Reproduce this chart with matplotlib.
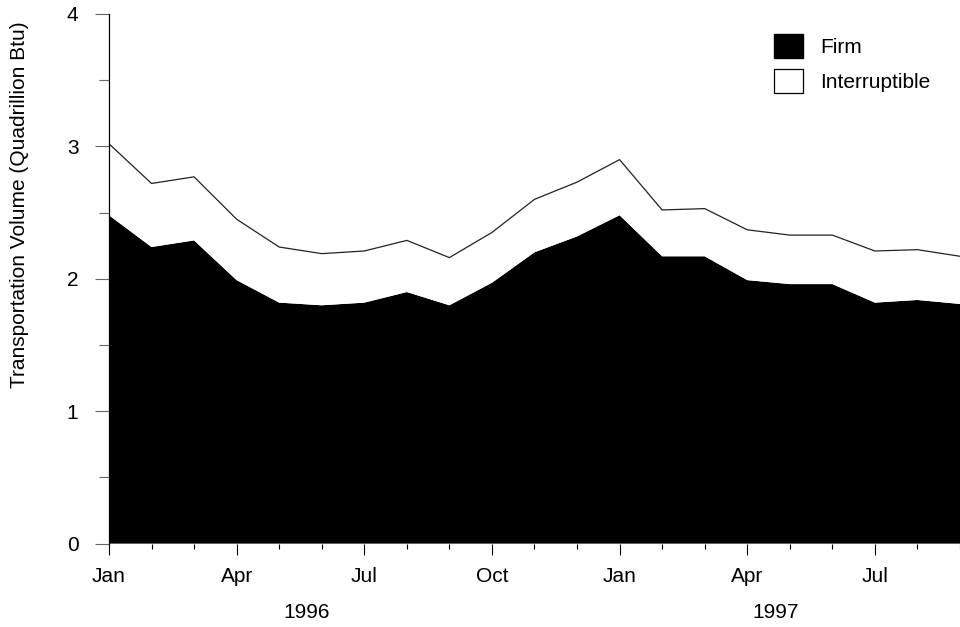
import matplotlib
matplotlib.use("Agg")
import matplotlib.pyplot as plt
import matplotlib.patches as mpatches
import matplotlib.transforms as mtransforms
import numpy as np

# Monthly natural gas transportation volumes, Jan 1996 - Sep 1997 (quadrillion Btu)
months = ["Jan", "Feb", "Mar", "Apr", "May", "Jun", "Jul", "Aug", "Sep", "Oct", "Nov", "Dec",
          "Jan", "Feb", "Mar", "Apr", "May", "Jun", "Jul", "Aug", "Sep"]
firm = [2.48, 2.24, 2.29, 1.99, 1.82, 1.80, 1.82, 1.90, 1.80, 1.97, 2.20, 2.32,
        2.48, 2.17, 2.17, 1.99, 1.96, 1.96, 1.82, 1.84, 1.81]
interruptible = [0.54, 0.48, 0.48, 0.46, 0.42, 0.39, 0.39, 0.39, 0.36, 0.38, 0.40, 0.41,
                 0.42, 0.35, 0.36, 0.38, 0.37, 0.37, 0.39, 0.38, 0.36]
years = ["1996", "1997"]
year_centers = [4.65, 15.67]

plt.rcParams["font.family"] = ["Liberation Sans", "DejaVu Sans"]
FS = 15

fig = plt.figure(figsize=(9.6, 6.27), dpi=100)
ax = fig.add_axes([0.1135, 0.133, 0.8865, 0.8447])

x = np.arange(len(months))
firm_arr = np.array(firm)
total = firm_arr + np.array(interruptible)

ax.fill_between(x, 0, firm_arr, facecolor="black", edgecolor="none", linewidth=0)
ax.fill_between(x, firm_arr, total, facecolor="white", edgecolor="none", linewidth=0)
ax.plot(x, total, color="#222222", linewidth=0.9)

ax.set_xlim(0, 19.87)
ax.set_ylim(0, 4)

# y axis
ax.set_yticks([0, 1, 2, 3, 4])
ax.set_yticks([0.5, 1.5, 2.5, 3.5], minor=True)
ax.tick_params(axis="y", which="major", direction="out", length=10, width=0.8,
               color="#666666", pad=12, labelsize=FS)
ax.tick_params(axis="y", which="minor", direction="out", length=7, width=0.8, color="#666666")
ax.set_ylabel("Transportation Volume (Quadrillion Btu)", fontsize=FS)
ax.yaxis.set_label_coords(-0.094, 0.64)

# x axis
major_idx = list(range(0, len(months) - 1, 3))
ax.set_xticks(major_idx)
ax.set_xticklabels([months[i] for i in major_idx])
ax.set_xticks(x, minor=True)
ax.tick_params(axis="x", which="major", direction="out", length=8, width=0.8,
               color="black", pad=9, labelsize=FS)
ax.tick_params(axis="x", which="minor", direction="out", length=3.6, width=0.8, color="black")

trans = mtransforms.blended_transform_factory(ax.transData, fig.transFigure)
for label, xc in zip(years, year_centers):
    ax.text(xc, 1 - 613 / 627, label, transform=trans, ha="center", va="center", fontsize=FS)

for side in ["top", "right", "bottom"]:
    ax.spines[side].set_visible(False)
ax.spines["left"].set_linewidth(0.9)

handles = [
    mpatches.Patch(facecolor="black", edgecolor="black", label="Firm"),
    mpatches.Patch(facecolor="white", edgecolor="black", linewidth=0.9, label="Interruptible"),
]
fig.legend(handles=handles, loc="upper left", bbox_to_anchor=(774 / 960, 1 - 34 / 627),
           bbox_transform=fig.transFigure, frameon=False, fontsize=FS,
           handlelength=1.4, handleheight=1.4, handletextpad=0.8,
           labelspacing=0.53, borderpad=0, borderaxespad=0)

fig.savefig("out.png", dpi=100)
